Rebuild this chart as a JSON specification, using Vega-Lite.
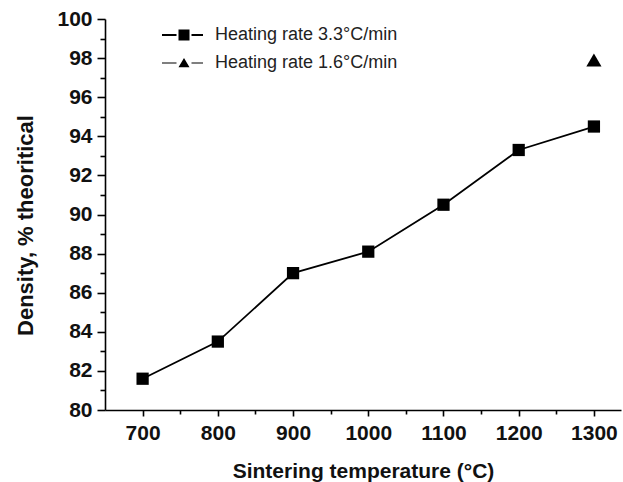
{
  "$schema": "https://vega.github.io/schema/vega-lite/v6.json",
  "autosize": "none",
  "width": 516,
  "height": 391,
  "padding": {"left": 105, "top": 19, "right": 2, "bottom": 72},
  "background": "white",
  "config": {
    "view": {"stroke": null},
    "font": "Liberation Sans",
    "axis": {
      "domainColor": "black", "domainWidth": 1.6, "tickColor": "black", "tickWidth": 1.6,
      "labelFont": "Liberation Sans", "labelFontWeight": "bold", "labelFontSize": 21, "labelColor": "#111",
      "titleFont": "Liberation Sans", "titleFontWeight": "bold", "titleFontSize": 21, "titleColor": "#111",
      "grid": false
    }
  },
  "data": {
    "values": [
      {"T": 700, "D": 81.6, "series": "Heating rate 3.3°C/min"},
      {"T": 800, "D": 83.5, "series": "Heating rate 3.3°C/min"},
      {"T": 900, "D": 87.0, "series": "Heating rate 3.3°C/min"},
      {"T": 1000, "D": 88.1, "series": "Heating rate 3.3°C/min"},
      {"T": 1100, "D": 90.5, "series": "Heating rate 3.3°C/min"},
      {"T": 1200, "D": 93.3, "series": "Heating rate 3.3°C/min"},
      {"T": 1300, "D": 94.5, "series": "Heating rate 3.3°C/min"},
      {"T": 1300, "D": 97.9, "series": "Heating rate 1.6°C/min"}
    ]
  },
  "encoding": {
    "x": {
      "field": "T", "type": "quantitative",
      "scale": {"domain": [650, 1336], "nice": false, "zero": false},
      "axis": {
        "title": "Sintering temperature (°C)",
        "format": "d",
        "values": [700, 750, 800, 850, 900, 950, 1000, 1050, 1100, 1150, 1200, 1250, 1300],
        "labelExpr": "datum.value % 100 == 0 ? datum.label : ''",
        "tickSize": {"condition": {"test": "datum.value % 100 == 0", "value": 6}, "value": 4},
        "labelPadding": 6, "labelFlush": false, "labelOverlap": false,
        "titleY": 67, "titleBaseline": "alphabetic", "titleAnchor": "middle"
      }
    },
    "y": {
      "field": "D", "type": "quantitative",
      "scale": {"domain": [80, 100], "nice": false, "zero": false},
      "axis": {
        "title": "Density, % theoritical",
        "titleFontSize": 22,
        "values": [80, 81, 82, 83, 84, 85, 86, 87, 88, 89, 90, 91, 92, 93, 94, 95, 96, 97, 98, 99, 100],
        "labelExpr": "datum.value % 2 == 0 ? datum.label : ''",
        "tickSize": {"condition": {"test": "datum.value % 2 == 0", "value": 8}, "value": 5},
        "labelPadding": 5, "labelFlush": false, "labelOverlap": false,
        "titleX": -68, "titleY": 206, "titleAnchor": "middle"
      }
    }
  },
  "layer": [
    {
      "transform": [{"filter": "datum.series == 'Heating rate 3.3°C/min'"}],
      "mark": {"type": "line", "color": "black", "strokeWidth": 1.8},
      "encoding": {}
    },
    {
      "mark": {"type": "point", "filled": true, "color": "black", "opacity": 1, "size": 150},
      "encoding": {
        "shape": {
          "field": "series", "type": "nominal",
          "scale": {"domain": ["Heating rate 3.3°C/min", "Heating rate 1.6°C/min"], "range": ["square", "triangle-up"]},
          "legend": null
        },
        "size": {
          "field": "series", "type": "nominal",
          "scale": {"domain": ["Heating rate 3.3°C/min", "Heating rate 1.6°C/min"], "range": [150, 230]},
          "legend": null
        }
      }
    },
    {
      "mark": {"type": "point", "filled": true, "color": "black", "opacity": 0, "size": 400},
      "encoding": {
        "shape": {
          "field": "series", "type": "nominal",
          "scale": {
            "domain": ["Heating rate 3.3°C/min", "Heating rate 1.6°C/min"],
            "range": [
              "M-2.2,-0.1H-0.75V0.1H-2.2Z M0.75,-0.1H1.9V0.1H0.75Z M-0.55,-0.55H0.55V0.55H-0.55Z",
              "M-2.2,-0.05H-0.75V0.05H-2.2Z M0.75,-0.05H1.9V0.05H0.75Z M0,-0.5L0.55,0.42H-0.55Z"
            ]
          },
          "legend": {
            "title": null, "orient": "none", "legendX": 68, "legendY": 5,
            "padding": 0, "rowPadding": 8, "symbolSize": 400, "labelOffset": 20, "labelLimit": 400,
            "labelFont": "Liberation Sans", "labelFontSize": 18, "labelColor": "#222",
            "encode": {"symbols": {"update": {"fill": {"value": "black"}, "opacity": {"value": 1}, "stroke": {"value": "transparent"}, "strokeWidth": {"value": 0}}}}
          }
        }
      }
    }
  ],
  "resolve": {"scale": {"shape": "independent", "size": "independent"}}
}
